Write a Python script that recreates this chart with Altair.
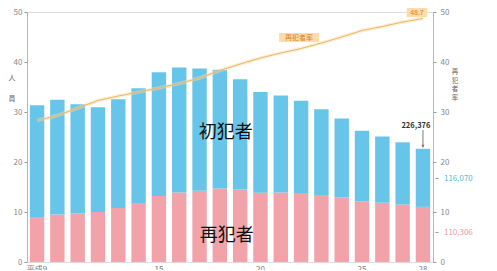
import altair as alt
import pandas as pd

years = ["9", "10", "11", "12", "13", "14", "15", "16", "17", "18",
         "19", "20", "21", "22", "23", "24", "25", "26", "27", "28"]
# 単位: 万人
first_time = [22.49, 22.93, 21.83, 20.96, 21.73, 22.94, 24.75, 25.01, 24.46, 23.71,
              22.08, 20.12, 19.37, 18.48, 17.17, 15.78, 14.10, 13.28, 12.45, 11.61]
repeat = [8.87, 9.50, 9.71, 10.00, 10.80, 11.82, 13.21, 13.89, 14.24, 14.72,
          14.48, 13.86, 13.92, 13.78, 13.39, 12.92, 12.15, 11.83, 11.49, 11.03]
# 再犯者率 (%)
rate = [28.3, 29.3, 30.8, 32.3, 33.2, 34.0, 34.8, 35.7, 36.8, 38.3,
        39.6, 40.8, 41.8, 42.7, 43.8, 45.0, 46.3, 47.1, 48.0, 48.7]
ticks = [0, 10, 20, 30, 40, 50]
side_chars = ["再", "犯", "者", "率"]
side_y = [38.0, 36.3, 34.6, 32.9]

FONT = "Noto Sans CJK JP"
PINK = "#f2a3aa"
CYAN = "#68c5ea"
ORANGE = "#efb662"

rows = []
for i, y in enumerate(years):
    rows.append({"year": y, "kind": "再犯者", "order": 0, "v": repeat[i]})
    rows.append({"year": y, "kind": "初犯者", "order": 1, "v": first_time[i]})
bars_df = pd.DataFrame(rows)
rate_df = pd.DataFrame({"year": years, "rate": rate})

xscale = alt.Scale(domain=years, paddingInner=0.29, paddingOuter=0.14)
yscale = alt.Scale(domain=[0, 50], nice=False)

xaxis = alt.Axis(
    title=None, labelAngle=0, ticks=False, domain=False, labelFont=FONT,
    labelFontSize=8, labelColor="#777", labelPadding=3,
    labelExpr="datum.value == '9' ? '平成9' : (indexof(['15','20','25','28'], datum.value) >= 0 ? datum.value : '')",
)
leftaxis = alt.Axis(
    title=None, values=ticks, grid=False, domainColor="#b5b5b5", tickColor="#999",
    tickSize=3, labelFont=FONT, labelFontSize=8, labelColor="#888", labelPadding=2,
)
rightaxis = alt.Axis(
    title=None, orient="right", values=ticks, grid=False, domainColor="#b5b5b5",
    tickColor="#999", tickSize=3, labelFont=FONT, labelFontSize=8,
    labelColor="#888", labelPadding=4,
)

bars = alt.Chart(bars_df).mark_bar().encode(
    x=alt.X("year:N", scale=xscale, axis=xaxis, sort=years),
    y=alt.Y("v:Q", scale=yscale, axis=leftaxis, stack="zero"),
    color=alt.Color("kind:N", scale=alt.Scale(domain=["再犯者", "初犯者"], range=[PINK, CYAN]), legend=None),
    order=alt.Order("order:Q"),
)

line_base = alt.Chart(rate_df).encode(
    x=alt.X("year:N", scale=xscale, sort=years),
    y=alt.Y("rate:Q", scale=yscale, axis=rightaxis),
)
halo = line_base.mark_line(color="#f9dcb0", strokeWidth=3.5, opacity=0.45)
line = line_base.mark_line(color=ORANGE, strokeWidth=1.1)

def txt(df, **kw):
    return alt.Chart(pd.DataFrame(df)).mark_text(font=FONT, **kw).encode(
        x=alt.X("year:N", scale=xscale, sort=years),
        y=alt.Y("y:Q", scale=yscale),
        text="t:N",
    )

big1 = txt({"year": ["18"], "y": [25.8], "t": ["初犯者"]}, fontSize=18, color="#111", dx=6)
big2 = txt({"year": ["18"], "y": [5.2], "t": ["再犯者"]}, fontSize=18, color="#111", dx=7)

total_lbl = txt({"year": ["28"], "y": [27.2], "t": ["226,376"]}, fontSize=7.5, color="#333",
                fontWeight="bold", dx=-7)
arrow = alt.Chart(pd.DataFrame({"year": ["28"], "y1": [26.4], "y2": [22.9]})).mark_rule(
    color="#555", strokeWidth=0.8).encode(
    x=alt.X("year:N", scale=xscale, sort=years), y=alt.Y("y1:Q", scale=yscale), y2="y2:Q")
arrow_head = alt.Chart(pd.DataFrame({"year": ["28"], "y": [23.2]})).mark_point(
    shape="triangle-down", size=10, filled=True, color="#555").encode(
    x=alt.X("year:N", scale=xscale, sort=years), y=alt.Y("y:Q", scale=yscale))

lead1 = txt({"year": ["28"], "y": [16.6], "t": ["–"]}, fontSize=8, color="#555", dx=14)
lead2 = txt({"year": ["28"], "y": [5.8], "t": ["–"]}, fontSize=8, color="#555", dx=14)
cyan_lbl = txt({"year": ["28"], "y": [16.6], "t": ["116,070"]}, fontSize=8, color="#5fb8d8",
               align="left", dx=21)
pink_lbl = txt({"year": ["28"], "y": [5.8], "t": ["110,306"]}, fontSize=8, color="#e79aa3",
               align="left", dx=21)

box_df = pd.DataFrame({"year": ["22", "28"], "y": [44.9, 49.9]})
box1 = alt.Chart(box_df.iloc[[0]]).mark_point(
    shape="M-1,-0.22L1,-0.22L1,0.22L-1,0.22Z", size=1600, filled=True, color="#fcdcab",
    opacity=1, xOffset=-2).encode(
    x=alt.X("year:N", scale=xscale, sort=years), y=alt.Y("y:Q", scale=yscale))
box2 = alt.Chart(box_df.iloc[[1]]).mark_point(
    shape="M-1,-0.45L1,-0.45L1,0.45L-1,0.45Z", size=420, filled=True, color="#fcdcab",
    opacity=1, xOffset=-6).encode(
    x=alt.X("year:N", scale=xscale, sort=years), y=alt.Y("y:Q", scale=yscale))
box1t = txt({"year": ["22"], "y": [44.9], "t": ["再犯者率"]}, fontSize=7, color="#d9822b", dx=-2)
box2t = txt({"year": ["28"], "y": [49.9], "t": ["48.7"]}, fontSize=7, color="#d9822b", dx=-6)

side_r = txt({"year": ["28"] * 4, "y": side_y, "t": side_chars}, fontSize=6.5, color="#666", dx=32)
side_l1 = txt({"year": ["9"], "y": [36.8], "t": ["人"]}, fontSize=7, color="#666", dx=-25)
side_l2 = txt({"year": ["9"], "y": [32.6], "t": ["員"]}, fontSize=7, color="#666", dx=-25)

left = alt.layer(bars, big1, big2, total_lbl, arrow, arrow_head, lead1, lead2, cyan_lbl,
                 pink_lbl, side_l1, side_l2)
right = alt.layer(halo, line, box1, box2, box1t, box2t, side_r)

chart = alt.layer(left, right).resolve_scale(y="independent").properties(
    width=406, height=250,
    autosize=alt.AutoSizeParams(type="none"),
    padding={"left": 19, "top": 4, "right": 56, "bottom": 8},
).configure_view(stroke=None).configure(background="white")

chart.save("out.html", embed_options={"renderer": "svg", "actions": False})
